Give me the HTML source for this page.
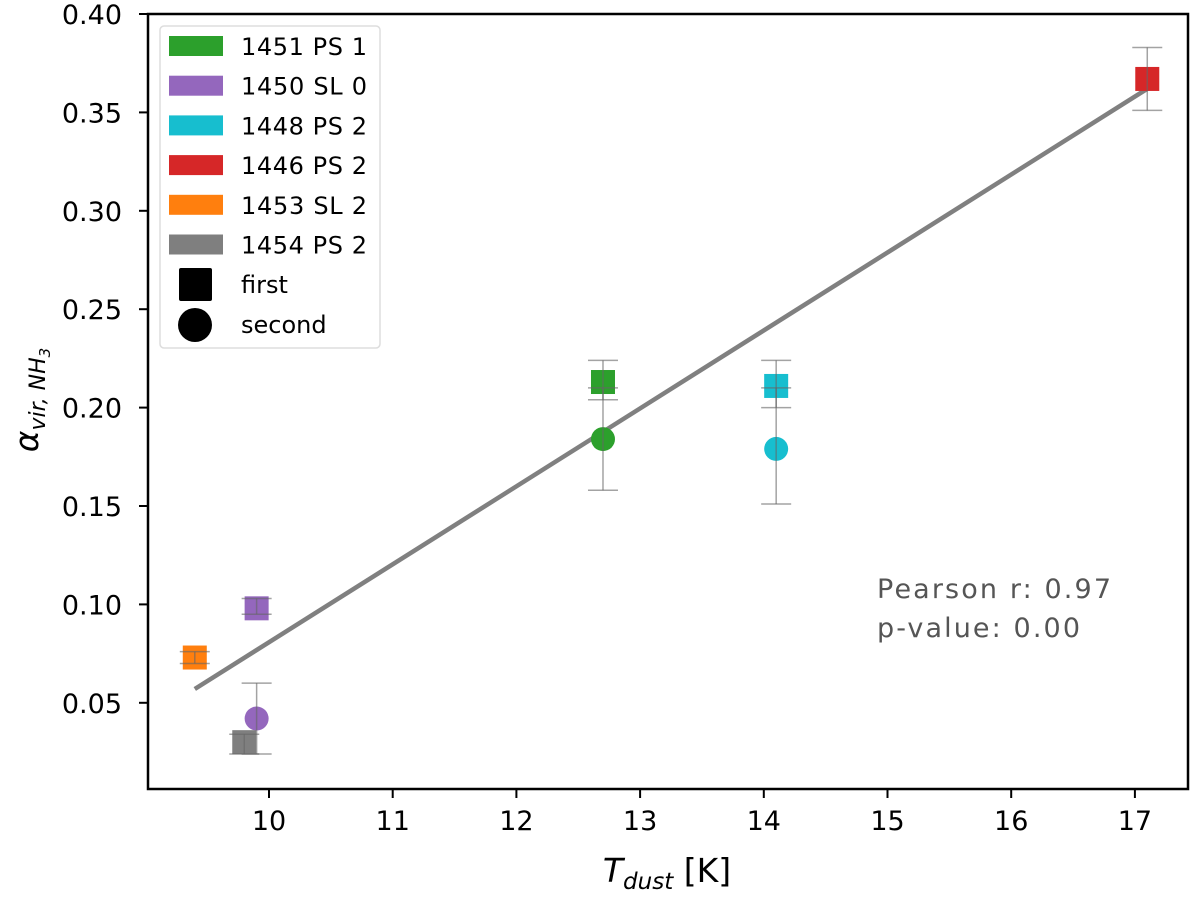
<!DOCTYPE html>
<html><head><meta charset="utf-8"><style>
body{margin:0;background:#fff;}
svg text{font-family:"DejaVu Sans","Liberation Sans",sans-serif;}
</style></head><body>
<svg id="chart" width="1200" height="898">
<g id="marks"></g>
<rect x="148" y="14" width="1040" height="775" fill="none" stroke="#000" stroke-width="2.5"/>
<g id="axes"></g>
<g>
<rect x="160" y="26" width="220" height="322" rx="4" fill="#fff" fill-opacity="0.85" stroke="#ddd" stroke-width="1.5"/>
<g id="legend-items"></g>
</g>
<text x="877" y="598" font-size="27" fill="#555" textLength="234">Pearson r: 0.97</text>
<text x="877" y="637" font-size="27" fill="#555" textLength="203">p-value: 0.00</text>
<text x="667" y="882" font-size="33" text-anchor="middle"><tspan font-style="italic">T</tspan><tspan font-style="italic" font-size="23" dy="7">dust</tspan><tspan dy="-7"> [K]</tspan></text>
<text transform="translate(38,400) rotate(-90)" font-size="33" text-anchor="middle"><tspan font-style="italic">α</tspan><tspan font-style="italic" font-size="22" dy="7">vir, NH</tspan><tspan font-style="italic" font-size="15" dy="5">3</tspan></text>
</svg>
<script>
const xTicks=[10,11,12,13,14,15,16,17];
const yTicks=[0.05,0.10,0.15,0.20,0.25,0.30,0.35,0.40];
const ptNames=['1453-first','1450-first','1450-second','1454-first','1451-first','1451-second','1448-first','1448-second','1446-first'];
const ptT=[9.4,9.9,9.9,9.8,12.7,12.7,14.1,14.1,17.1];
const ptA=[0.073,0.098,0.042,0.030,0.213,0.184,0.211,0.179,0.367];
const ptErrLo=[0.070,0.095,0.024,0.024,0.204,0.158,0.200,0.151,0.351];
const ptErrHi=[0.076,0.103,0.060,0.034,0.224,0.210,0.224,0.210,0.383];
const ptColor=['#ff7f0e','#9467bd','#9467bd','#7f7f7f','#2ca02c','#2ca02c','#17becf','#17becf','#d62728'];
const ptShape=['s','s','c','s','s','c','s','c','s'];
const fitT=[9.4,17.1];
const fitA=[0.057,0.362];
const legLabels=['1451 PS 1','1450 SL 0','1448 PS 2','1446 PS 2','1453 SL 2','1454 PS 2'];
const legColors=['#2ca02c','#9467bd','#17becf','#d62728','#ff7f0e','#7f7f7f'];
const X=t=>269+(t-10)*123.7;
const Y=v=>14+(0.40-v)*1968;
const NS='http://www.w3.org/2000/svg';
function mk(tag,attrs,parent){const e=document.createElementNS(NS,tag);for(const k in attrs)e.setAttribute(k,attrs[k]);parent.appendChild(e);return e;}
const axes=document.getElementById('axes'),marks=document.getElementById('marks'),leg=document.getElementById('legend-items');
xTicks.forEach(t=>{
 const l=mk('line',{x1:X(t),x2:X(t),y1:789,y2:798,stroke:'#000','stroke-width':2},axes);
 
 
 const tx=mk('text',{x:X(t),y:830,'font-size':27,'text-anchor':'middle'},axes);tx.textContent=t;
 
 
});
yTicks.forEach(v=>{
 const l=mk('line',{x1:139,x2:148,y1:Y(v),y2:Y(v),stroke:'#000','stroke-width':2},axes);
 
 
 const tx=mk('text',{x:122,y:Y(v)+10,'font-size':27,'text-anchor':'end'},axes);tx.textContent=v.toFixed(2);
 
 
});
const fit=mk('line',{x1:X(fitT[0]),y1:Y(fitA[0]),x2:X(fitT[1]),y2:Y(fitA[1]),stroke:'#808080','stroke-width':4.5},marks);


ptT.forEach((t,i)=>{
 const g=mk('g',{},marks);
 
 
 const x=X(t),y=Y(ptA[i]);
 if(ptShape[i]==='s')mk('rect',{x:x-12,y:y-12,width:24,height:24,fill:ptColor[i]},g);
 else mk('circle',{cx:x,cy:y,r:12,fill:ptColor[i]},g);
 const yl=Y(ptErrLo[i]),yh=Y(ptErrHi[i]);
 mk('line',{x1:x,x2:x,y1:yl,y2:yh,stroke:'#666','stroke-opacity':0.6,'stroke-width':1.5},g);
 mk('line',{x1:x-15,x2:x+15,y1:yl,y2:yl,stroke:'#666','stroke-opacity':0.6,'stroke-width':1.5},g);
 mk('line',{x1:x-15,x2:x+15,y1:yh,y2:yh,stroke:'#666','stroke-opacity':0.6,'stroke-width':1.5},g);
});
legLabels.forEach((s,i)=>{
 const y=46+i*39.7;
 const g=mk('g',{},leg);
 
 
 mk('rect',{x:169,y:y-10,width:54,height:20,fill:legColors[i]},g);
 const tx=mk('text',{x:241,y:y+9,'font-size':24,textLength:126},g);tx.textContent=s;
});
const g1=mk('g',{},leg);


mk('rect',{x:179,y:268,width:33,height:33,rx:2,fill:'#000'},g1);
const t1=mk('text',{x:241,y:293,'font-size':24},g1);t1.textContent='first';
const g2=mk('g',{},leg);


mk('circle',{cx:195,cy:325,r:17,fill:'#000'},g2);
const t2=mk('text',{x:241,y:333,'font-size':24},g2);t2.textContent='second';
</script>
</body></html>
